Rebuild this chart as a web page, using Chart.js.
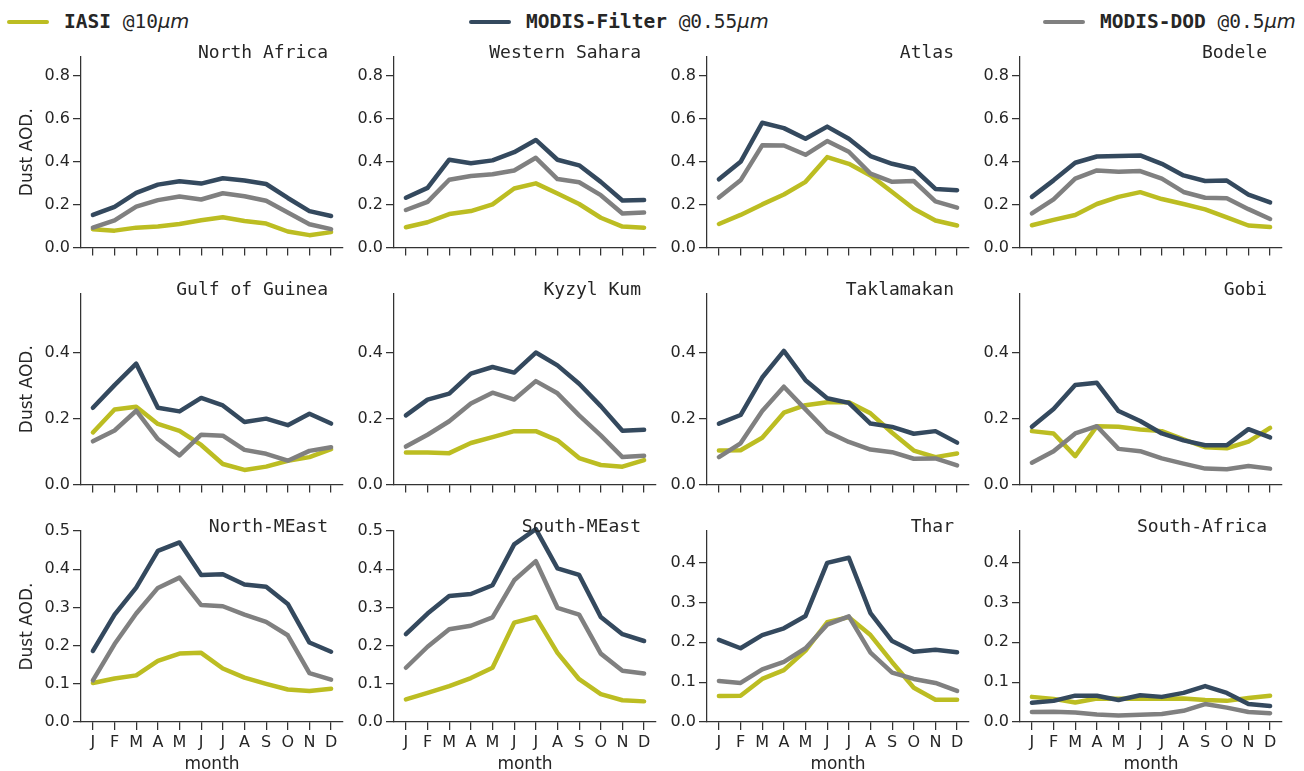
<!DOCTYPE html>
<html>
<head>
<meta charset="utf-8">
<script src="https://cdn.jsdelivr.net/npm/chart.js@4.4.1/dist/chart.umd.min.js"></script>
<style>
  body { margin: 0; background: #fff; width: 1304px; height: 771px; position: relative; overflow: hidden; }
  .cell { position: absolute; }
  .key { position: absolute; top: 10px; height: 24px; line-height: 24px; font-family: 'DejaVu Sans Mono', monospace; font-size: 19.5px; color: #262626; white-space: nowrap; }
  .key .swatch { position: absolute; left: 0; top: 10px; width: 42px; height: 4px; border-radius: 2px; }
  .key .label { position: absolute; left: 57px; top: 0; }
  .key i { font-family: 'DejaVu Sans', sans-serif; }
</style>
</head>
<body>
<div id="legend"></div>
<script>
const months = ['J', 'F', 'M', 'A', 'M', 'J', 'J', 'A', 'S', 'O', 'N', 'D'];

const regions = [
  'North Africa', 'Western Sahara', 'Atlas', 'Bodele',
  'Gulf of Guinea', 'Kyzyl Kum', 'Taklamakan', 'Gobi',
  'North-MEast', 'South-MEast', 'Thar', 'South-Africa'
];

// one row per region, Jan..Dec
const iasi = [
  [0.085, 0.078, 0.092, 0.097, 0.109, 0.126, 0.140, 0.123, 0.111, 0.074, 0.057, 0.071],
  [0.094, 0.117, 0.155, 0.169, 0.200, 0.274, 0.298, 0.251, 0.202, 0.138, 0.097, 0.092],
  [0.109, 0.151, 0.200, 0.246, 0.305, 0.420, 0.389, 0.335, 0.258, 0.180, 0.125, 0.102],
  [0.103, 0.128, 0.151, 0.202, 0.235, 0.257, 0.225, 0.202, 0.177, 0.140, 0.102, 0.095],
  [0.158, 0.228, 0.236, 0.184, 0.163, 0.120, 0.062, 0.044, 0.054, 0.072, 0.083, 0.107],
  [0.097, 0.097, 0.095, 0.126, 0.144, 0.162, 0.162, 0.134, 0.080, 0.059, 0.054, 0.074],
  [0.103, 0.104, 0.142, 0.218, 0.241, 0.250, 0.250, 0.216, 0.157, 0.103, 0.083, 0.094],
  [0.162, 0.155, 0.086, 0.177, 0.175, 0.167, 0.162, 0.137, 0.113, 0.110, 0.130, 0.172],
  [0.102, 0.114, 0.122, 0.160, 0.179, 0.181, 0.140, 0.116, 0.100, 0.085, 0.081, 0.087],
  [0.059, 0.076, 0.094, 0.115, 0.142, 0.260, 0.275, 0.181, 0.112, 0.073, 0.057, 0.054],
  [0.065, 0.066, 0.108, 0.130, 0.179, 0.250, 0.263, 0.218, 0.150, 0.086, 0.056, 0.056],
  [0.063, 0.058, 0.049, 0.059, 0.058, 0.058, 0.058, 0.059, 0.055, 0.053, 0.060, 0.066]
];

const modisFilter = [
  [0.151, 0.189, 0.254, 0.292, 0.308, 0.297, 0.322, 0.311, 0.295, 0.230, 0.169, 0.146],
  [0.231, 0.277, 0.408, 0.392, 0.405, 0.443, 0.500, 0.408, 0.382, 0.305, 0.218, 0.220],
  [0.317, 0.398, 0.580, 0.555, 0.506, 0.562, 0.506, 0.425, 0.389, 0.366, 0.272, 0.266],
  [0.235, 0.312, 0.394, 0.423, 0.425, 0.428, 0.389, 0.335, 0.309, 0.311, 0.246, 0.209],
  [0.233, 0.302, 0.367, 0.233, 0.222, 0.263, 0.240, 0.190, 0.200, 0.180, 0.215, 0.185],
  [0.210, 0.258, 0.276, 0.337, 0.357, 0.340, 0.401, 0.362, 0.306, 0.238, 0.163, 0.166],
  [0.185, 0.211, 0.325, 0.406, 0.317, 0.262, 0.248, 0.185, 0.175, 0.154, 0.162, 0.127],
  [0.175, 0.229, 0.302, 0.309, 0.223, 0.193, 0.155, 0.134, 0.119, 0.119, 0.168, 0.143],
  [0.186, 0.281, 0.352, 0.448, 0.470, 0.385, 0.387, 0.360, 0.354, 0.309, 0.208, 0.184],
  [0.230, 0.284, 0.330, 0.335, 0.358, 0.465, 0.505, 0.402, 0.385, 0.275, 0.230, 0.212],
  [0.206, 0.185, 0.218, 0.235, 0.266, 0.399, 0.412, 0.273, 0.203, 0.176, 0.181, 0.175],
  [0.048, 0.053, 0.066, 0.066, 0.055, 0.067, 0.063, 0.073, 0.090, 0.073, 0.045, 0.040]
];

const modisDod = [
  [0.092, 0.126, 0.190, 0.220, 0.237, 0.223, 0.252, 0.238, 0.217, 0.162, 0.108, 0.085],
  [0.174, 0.212, 0.315, 0.332, 0.340, 0.358, 0.417, 0.318, 0.303, 0.243, 0.158, 0.162],
  [0.232, 0.312, 0.475, 0.474, 0.431, 0.495, 0.445, 0.343, 0.305, 0.309, 0.214, 0.185],
  [0.158, 0.223, 0.320, 0.358, 0.352, 0.355, 0.320, 0.258, 0.231, 0.229, 0.178, 0.132],
  [0.131, 0.164, 0.224, 0.138, 0.088, 0.151, 0.148, 0.105, 0.093, 0.072, 0.102, 0.113],
  [0.115, 0.151, 0.192, 0.246, 0.279, 0.258, 0.314, 0.277, 0.210, 0.149, 0.083, 0.087],
  [0.083, 0.125, 0.223, 0.297, 0.228, 0.160, 0.129, 0.106, 0.098, 0.078, 0.079, 0.058],
  [0.066, 0.101, 0.155, 0.177, 0.108, 0.101, 0.079, 0.063, 0.048, 0.046, 0.056, 0.048],
  [0.109, 0.204, 0.284, 0.351, 0.378, 0.306, 0.303, 0.281, 0.262, 0.227, 0.128, 0.111],
  [0.142, 0.197, 0.243, 0.252, 0.274, 0.371, 0.421, 0.299, 0.281, 0.179, 0.134, 0.127],
  [0.103, 0.098, 0.132, 0.151, 0.185, 0.244, 0.265, 0.174, 0.124, 0.108, 0.098, 0.078],
  [0.025, 0.026, 0.024, 0.019, 0.016, 0.018, 0.020, 0.028, 0.045, 0.036, 0.025, 0.022]
];

const seriesNames = ['IASI', 'MODIS-Filter', 'MODIS-DOD'];
const seriesBands = ['@10', '@0.55', '@0.5'];

const ticksTop = [0, 0.2, 0.4, 0.6, 0.8];
const ticksMid = [0, 0.2, 0.4];
const ticksMEast = [0, 0.1, 0.2, 0.3, 0.4, 0.5];
const ticksLow = [0, 0.1, 0.2, 0.3, 0.4];
const panelTicks = [ticksTop, ticksTop, ticksTop, ticksTop, ticksMid, ticksMid, ticksMid, ticksMid,
                    ticksMEast, ticksMEast, ticksLow, ticksLow];
const panelMax = [0.886, 0.886, 0.886, 0.886, 0.579, 0.579, 0.579, 0.579, 0.5, 0.5, 0.479, 0.479];

// styling / layout
const colors = ['#bcbd22', '#34495e', '#808080'];
const axisColor = '#333333';
const textColor = '#262626';
const colX = [81, 394, 707, 1020];
const rowTop = [57, 294, 531];
const plotW = 262, plotH = 191;
const padTop = 24, padRight = 10, yAxisW = 81;

Chart.defaults.font.family = "'DejaVu Sans', sans-serif";
Chart.defaults.color = textColor;

// legend
const legendX = [7, 469, 1043];
const legend = document.getElementById('legend');
seriesNames.forEach((name, i) => {
  const key = document.createElement('div');
  key.className = 'key';
  key.style.left = legendX[i] + 'px';
  key.innerHTML = `<span class="swatch" style="background:${colors[i]}"></span>` +
    `<span class="label"><b>${name}</b> ${seriesBands[i]}<i>μm</i></span>`;
  legend.appendChild(key);
});

const cornerTitle = {
  id: 'cornerTitle',
  afterDraw(chart, args, opts) {
    const { ctx, chartArea } = chart;
    ctx.save();
    ctx.font = "18px 'DejaVu Sans Mono'";
    ctx.fillStyle = textColor;
    ctx.textAlign = 'right';
    ctx.textBaseline = 'middle';
    ctx.fillText(opts.text, chartArea.right - 15, chartArea.top - 4);
    ctx.restore();
  }
};

regions.forEach((region, p) => {
  const row = Math.floor(p / 4), col = p % 4;
  const bottomRow = row === 2;
  const xAxisH = bottomRow ? 53 : 12;
  const w = yAxisW + plotW + padRight;
  const h = padTop + plotH + xAxisH;

  const cell = document.createElement('div');
  cell.className = 'cell';
  cell.style.left = (colX[col] - yAxisW) + 'px';
  cell.style.top = (rowTop[row] - padTop) + 'px';
  const canvas = document.createElement('canvas');
  canvas.width = w;
  canvas.height = h;
  canvas.style.width = w + 'px';
  canvas.style.height = h + 'px';
  cell.appendChild(canvas);
  document.body.appendChild(cell);

  const allSeries = [iasi, modisFilter, modisDod];
  const datasets = allSeries.map((s, i) => ({
    label: seriesNames[i],
    data: s[p].map((v, m) => ({ x: m, y: v })),
    borderColor: colors[i],
    backgroundColor: colors[i],
    borderWidth: 4.5,
    pointRadius: 0,
    tension: 0,
    borderJoinStyle: 'round',
    borderCapStyle: 'round',
    clip: false,
    order: 2 - i
  }));

  new Chart(canvas, {
    type: 'line',
    data: { datasets },
    plugins: [cornerTitle],
    options: {
      responsive: false,
      animation: false,
      devicePixelRatio: 1,
      layout: { padding: { top: padTop, right: padRight, left: 0, bottom: 0 } },
      plugins: {
        legend: { display: false },
        tooltip: { enabled: false },
        cornerTitle: { text: region }
      },
      scales: {
        x: {
          type: 'linear',
          min: -0.55,
          max: 11.55,
          afterBuildTicks: s => { s.ticks = months.map((m, i) => ({ value: i })); },
          afterFit: s => { s.height = xAxisH; },
          ticks: {
            display: bottomRow,
            autoSkip: false,
            maxRotation: 0,
            padding: 3,
            color: textColor,
            font: { size: 16 },
            callback: (v, i) => months[i]
          },
          grid: { display: true, drawOnChartArea: false, drawTicks: true, tickLength: 8, color: axisColor, lineWidth: 1.25 },
          border: { display: true, color: axisColor, width: 1.25 },
          title: { display: bottomRow, text: 'month', color: textColor, font: { size: 17 }, padding: { top: 0, bottom: 0 } }
        },
        y: {
          type: 'linear',
          min: 0,
          max: panelMax[p],
          afterBuildTicks: s => { s.ticks = panelTicks[p].map(v => ({ value: v })); },
          afterFit: s => { s.width = yAxisW; },
          ticks: {
            padding: 3,
            color: textColor,
            font: { size: 16 },
            callback: v => v.toFixed(1)
          },
          grid: { display: true, drawOnChartArea: false, drawTicks: true, tickLength: 8, color: axisColor, lineWidth: 1.25 },
          border: { display: true, color: axisColor, width: 1.25 },
          title: { display: col === 0, text: 'Dust AOD.', color: textColor, font: { size: 17 }, padding: { top: 17, bottom: 0 } }
        }
      }
    }
  });
});
</script>
</body>
</html>
